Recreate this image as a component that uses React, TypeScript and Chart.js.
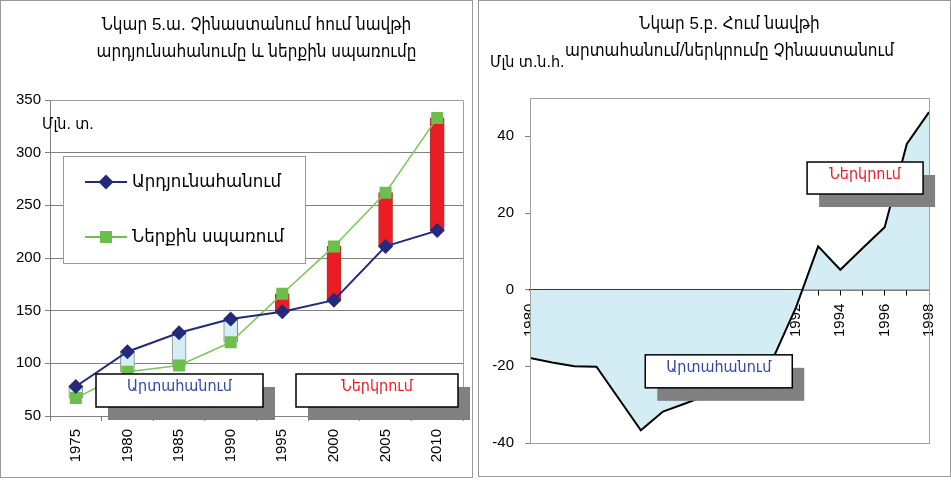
import React, { useEffect, useRef } from "react";
import { Chart, registerables } from "chart.js";

Chart.register(...registerables);

const FONT = '"Liberation Sans", "DejaVu Sans Condensed", "DejaVu Sans", sans-serif';

// ---- Left chart (5.ա) ----
const yearsA = ["1975", "1980", "1985", "1990", "1995", "2000", "2005", "2010"];
const production = [78, 111, 129, 142, 149, 160, 211, 226];
const consumption = [67, 92, 98, 120, 166, 211, 262, 333];
const yTicksA = [50, 100, 150, 200, 250, 300, 350];
const titleA = ["Նկար 5.ա. Չինաստանում հում նավթի", "արդյունահանումը և ներքին սպառումը"];
const unitA = "Մլն. տ.";
const seriesNamesA = ["Արդյունահանում", "Ներքին սպառում"];

// ---- Right chart (5.բ) ----
const yearsB = [1980, 1981, 1982, 1983, 1984, 1985, 1986, 1987, 1988, 1989, 1990, 1991, 1992, 1993, 1994, 1995, 1996, 1997, 1998];
const netImport = [-17.8, -19, -20, -20.1, -28.4, -36.7, -31.8, -29.7, -27.5, -25, -22.5, -17.5, -4.6, 11.3, 5.2, 10.8, 16.3, 38, 46.3];
const yTicksB = [-40, -20, 0, 20, 40];
const titleB = ["Նկար 5.բ. Հում նավթի", "արտահանում/ներկրումը Չինաստանում"];
const unitB = "Մլն տ.ն.հ.";

const exportLabel = "Արտահանում";
const importLabel = "Ներկրում";

function noteBox(ctx: CanvasRenderingContext2D, x: number, y: number, w: number, h: number, text: string, color: string) {
  ctx.save();
  ctx.fillStyle = "#808080";
  ctx.fillRect(x + 12, y + 13, w, h);
  ctx.fillStyle = "#ffffff";
  ctx.fillRect(x, y, w, h);
  ctx.strokeStyle = "#000000";
  ctx.lineWidth = 1.5;
  ctx.strokeRect(x, y, w, h);
  ctx.fillStyle = color;
  ctx.font = `16px ${FONT}`;
  ctx.textAlign = "center";
  ctx.textBaseline = "middle";
  ctx.fillText(text, x + w / 2, y + h * 0.38);
  ctx.restore();
}

function LeftChart() {
  const ref = useRef<HTMLCanvasElement>(null);
  useEffect(() => {
    if (!ref.current) return;
    const ranges = production.map((p, i) => [Math.min(p, consumption[i]), Math.max(p, consumption[i])]);
    const barFill = production.map((p, i) => (p >= consumption[i] ? "#d5edf5" : "#ec1c24"));
    const barEdge = production.map((p, i) => (p >= consumption[i] ? "#8a8a8a" : "#b03030"));

    const deco = {
      id: "decoA",
      afterDatasetsDraw(chart: any) {
        const ctx: CanvasRenderingContext2D = chart.ctx;
        const ca = chart.chartArea;
        ctx.save();
        ctx.strokeStyle = "#a0a0a0";
        ctx.lineWidth = 1;
        ctx.beginPath();
        ctx.moveTo(ca.left, ca.top + 0.5);
        ctx.lineTo(ca.right + 0.5, ca.top + 0.5);
        ctx.lineTo(ca.right + 0.5, ca.bottom);
        ctx.stroke();
        const cx = (ca.left + ca.right) / 2;
        ctx.fillStyle = "#000";
        ctx.font = `17px ${FONT}`;
        ctx.textAlign = "center";
        ctx.textBaseline = "middle";
        ctx.fillText(titleA[0], cx, 25);
        ctx.fillText(titleA[1], cx, 52);
        ctx.textAlign = "left";
        ctx.font = `16px ${FONT}`;
        ctx.fillText(unitA, ca.left - 8, ca.top + 25);
        const lx = ca.left + 13, ly = ca.top + 56, lw = 242, lh = 107;
        ctx.fillStyle = "#fff";
        ctx.fillRect(lx, ly, lw, lh);
        ctx.strokeStyle = "#9a9a9a";
        ctx.lineWidth = 1;
        ctx.strokeRect(lx + 0.5, ly + 0.5, lw, lh);
        const items = [
          { name: seriesNamesA[0], color: "#232a7a", style: "rectRot", r: 7.5, y: ly + 26 },
          { name: seriesNamesA[1], color: "#6cbf4a", style: "rect", r: 8.5, y: ly + 81 },
        ];
        for (const it of items) {
          ctx.strokeStyle = it.color;
          ctx.lineWidth = 2;
          ctx.beginPath();
          ctx.moveTo(lx + 22, it.y);
          ctx.lineTo(lx + 64, it.y);
          ctx.stroke();
          ctx.fillStyle = it.color;
          ctx.save();
          ctx.translate(lx + 43, it.y);
          if (it.style === "rectRot") {
            ctx.beginPath();
            ctx.moveTo(0, -it.r);
            ctx.lineTo(it.r, 0);
            ctx.lineTo(0, it.r);
            ctx.lineTo(-it.r, 0);
            ctx.closePath();
            ctx.fill();
          } else {
            const s = it.r * Math.SQRT1_2;
            ctx.fillRect(-s, -s, 2 * s, 2 * s);
          }
          ctx.restore();
          ctx.fillStyle = "#000";
          ctx.font = `18.5px ${FONT}`;
          ctx.textAlign = "left";
          ctx.textBaseline = "middle";
          ctx.fillText(it.name, lx + 69, it.y);
        }
        ctx.restore();
        noteBox(ctx, ca.left + 46, ca.bottom - 42, 167, 33, exportLabel, "#3446ac");
        noteBox(ctx, ca.left + 246, ca.bottom - 42, 162, 33, importLabel, "#ec1c24");
      },
    };

    const chart = new Chart(ref.current, {
      type: "bar",
      data: {
        labels: yearsA,
        datasets: [
          {
            type: "bar",
            data: ranges as any,
            backgroundColor: barFill,
            borderColor: barEdge,
            borderWidth: 1,
            borderSkipped: false,
            barThickness: 14,
            order: 3,
          },
          {
            type: "line",
            label: seriesNamesA[1],
            data: consumption,
            borderColor: "#78c858",
            backgroundColor: "#6cbf4a",
            borderWidth: 1.5,
            pointStyle: "rect",
            pointRadius: 8.5,
            pointBorderWidth: 0,
            order: 2,
          } as any,
          {
            type: "line",
            label: seriesNamesA[0],
            data: production,
            borderColor: "#232a7a",
            backgroundColor: "#232a7a",
            borderWidth: 2,
            pointStyle: "rectRot",
            pointRadius: 7.5,
            pointBorderWidth: 0,
            order: 1,
          } as any,
        ],
      },
      options: {
        responsive: false,
        maintainAspectRatio: false,
        animation: false,
        layout: { padding: { left: 0, right: 11, top: 100, bottom: 0 } },
        plugins: { legend: { display: false }, tooltip: { enabled: false }, title: { display: false } },
        scales: {
          x: {
            afterFit: (s: any) => {
              s.height = 64;
            },
            ticks: { minRotation: 90, maxRotation: 90, font: { size: 15, family: FONT }, color: "#000", padding: 8 },
            grid: { drawOnChartArea: false, tickLength: 5, color: "#808080", offset: true },
            border: { color: "#808080" },
          },
          y: {
            min: 50,
            max: 350,
            afterFit: (s: any) => {
              s.width = 50;
            },
            afterBuildTicks: (s: any) => {
              s.ticks = yTicksA.map((v) => ({ value: v }));
            },
            ticks: { font: { size: 15, family: FONT }, color: "#000", padding: 4 },
            grid: { color: "#808080", tickLength: 5 },
            border: { color: "#808080" },
          },
        },
      },
      plugins: [deco],
    });
    return () => chart.destroy();
  }, []);
  return <canvas ref={ref} width={474} height={480} style={{ position: "absolute", left: 0, top: 0 }} />;
}

function RightChart() {
  const ref = useRef<HTMLCanvasElement>(null);
  useEffect(() => {
    if (!ref.current) return;
    const deco = {
      id: "decoB",
      afterDatasetsDraw(chart: any) {
        const ctx: CanvasRenderingContext2D = chart.ctx;
        const ca = chart.chartArea;
        ctx.save();
        ctx.strokeStyle = "#a0a0a0";
        ctx.lineWidth = 1;
        ctx.strokeRect(ca.left + 0.5, ca.top + 0.5, ca.right - ca.left, ca.bottom - ca.top);
        const cx = (ca.left + ca.right) / 2;
        ctx.fillStyle = "#000";
        ctx.font = `17px ${FONT}`;
        ctx.textAlign = "center";
        ctx.textBaseline = "middle";
        ctx.fillText(titleB[0], cx, 24);
        ctx.fillText(titleB[1], cx, 51);
        ctx.textAlign = "left";
        ctx.font = `16px ${FONT}`;
        ctx.fillText(unitB, 13, 63);
        ctx.restore();
        const xs = chart.scales.x;
        const ys = chart.scales.y;
        noteBox(ctx, xs.getPixelForValue(1992.5), ys.getPixelForValue(33.3), 116, 32, importLabel, "#ec1c24");
        noteBox(ctx, xs.getPixelForValue(1985.2), ys.getPixelForValue(-17), 147, 33, exportLabel, "#3446ac");
      },
    };
    const chart = new Chart(ref.current, {
      type: "line",
      data: {
        datasets: [
          {
            data: yearsB.map((x, i) => ({ x, y: netImport[i] })),
            borderColor: "#000",
            borderWidth: 2,
            pointRadius: 0,
            fill: "origin",
            backgroundColor: "#d4ecf3",
            tension: 0,
          },
        ],
      },
      options: {
        responsive: false,
        maintainAspectRatio: false,
        animation: false,
        layout: { padding: { left: 0, right: 22, top: 98, bottom: 37 } },
        plugins: { legend: { display: false }, tooltip: { enabled: false }, title: { display: false } },
        scales: {
          x: {
            type: "linear",
            min: 1980,
            max: 1998,
            position: { y: 0 } as any,
            afterBuildTicks: (s: any) => {
              s.ticks = yearsB.map((v) => ({ value: v }));
            },
            afterFit: (s: any) => {
              s.paddingLeft = 0;
              s.paddingRight = 0;
            },
            ticks: {
              autoSkip: false,
              minRotation: 90,
              maxRotation: 90,
              callback: (v: any) => (Number(v) % 2 === 0 ? String(v) : ""),
              font: { size: 15, family: FONT },
              color: "#000",
              padding: 9,
            },
            grid: { drawOnChartArea: false, tickLength: 5, color: "#000" },
            border: { color: "#000", width: 1.5 },
          },
          y: {
            min: -40,
            max: 50,
            afterFit: (s: any) => {
              s.width = 53;
            },
            afterBuildTicks: (s: any) => {
              s.ticks = yTicksB.map((v) => ({ value: v }));
            },
            ticks: { font: { size: 15, family: FONT }, color: "#000", padding: 11 },
            grid: { drawOnChartArea: false, tickLength: 5, color: "#808080" },
            border: { color: "#808080" },
          },
        },
      },
      plugins: [deco],
    });
    return () => chart.destroy();
  }, []);
  return <canvas ref={ref} width={474} height={480} style={{ position: "absolute", left: 477, top: 0 }} />;
}

export default function App() {
  return (
    <div style={{ position: "absolute", left: 0, top: 0, width: 951, height: 480, background: "#fff", overflow: "hidden" }}>
      <div style={{ position: "absolute", left: 0, top: 0, width: 473, height: 478, border: "1.5px solid #9a9a9a", boxSizing: "border-box" }} />
      <div style={{ position: "absolute", left: 478, top: 0, width: 473, height: 477, border: "1.5px solid #9a9a9a", boxSizing: "border-box" }} />
      <LeftChart />
      <RightChart />
    </div>
  );
}
